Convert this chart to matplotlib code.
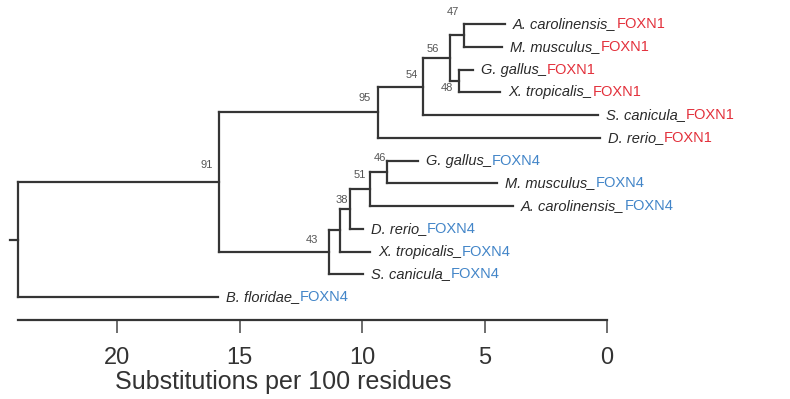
import matplotlib.pyplot as plt

plt.rcParams['font.family'] = ['Liberation Sans', 'DejaVu Sans']

# tips, top to bottom
species = ['A. carolinensis', 'M. musculus', 'G. gallus', 'X. tropicalis',
           'S. canicula', 'D. rerio', 'G. gallus', 'M. musculus',
           'A. carolinensis', 'D. rerio', 'X. tropicalis', 'S. canicula',
           'B. floridae']
genes = ['FOXN1', 'FOXN1', 'FOXN1', 'FOXN1', 'FOXN1', 'FOXN1',
         'FOXN4', 'FOXN4', 'FOXN4', 'FOXN4', 'FOXN4', 'FOXN4', 'FOXN4']
tip_dist = [4.16, 4.29, 5.47, 4.35, 0.37, 0.29,
            7.71, 4.49, 3.84, 9.96, 9.67, 9.96, 15.88]

# internal nodes (post-order), children refer to tips 't<i>' or other nodes
node_ids = ['n47', 'n48', 'n56', 'n54', 'n95', 'n46', 'n51', 'n38',
            'n39', 'n43', 'n91', 'root']
node_children = [['t0', 't1'], ['t2', 't3'], ['n47', 'n48'], ['n56', 't4'],
                 ['n54', 't5'], ['t6', 't7'], ['n46', 't8'], ['n51', 't9'],
                 ['n38', 't10'], ['n39', 't11'], ['n95', 'n43'], ['n91', 't12']]
node_dist = [5.84, 6.04, 6.41, 7.51, 9.35, 8.98, 9.67, 10.5,
             10.9, 11.35, 15.84, 24.04]
node_support = ['47', '48', '56', '54', '95', '46', '51', '38',
                '', '43', '91', '']

axis_ticks = [20, 15, 10, 5, 0]

gene_colors = {'FOXN1': '#e3303b', 'FOXN4': '#4285c8'}
# where each bootstrap number sits relative to its node, in pixels
support_offset = {'n47': (-11, 23), 'n48': (-12, -7), 'n56': (-17, 9),
                  'n54': (-11, 12), 'n95': (-13, 14), 'n46': (-7, 14),
                  'n51': (-10, 14), 'n38': (-8, 9), 'n43': (-17, 12),
                  'n91': (-12, 17)}

fig = plt.figure(figsize=(7.9, 3.99), dpi=100)
ax = fig.add_axes([0, 79 / 399, 1, 320 / 399])
ax.set_xlim(24.776, -7.469)
ax.set_ylim(13.01, -1.055)

branch = dict(color='#353535', lw=1.6, clip_on=False)

pos = {}
for i in range(len(species)):
    pos['t%d' % i] = (tip_dist[i], i)

for nid, kids, d in zip(node_ids, node_children, node_dist):
    ys = [pos[k][1] for k in kids]
    pos[nid] = (d, sum(ys) / len(ys))
    ax.plot([d, d], [min(ys), max(ys)], **branch)
    for k in kids:
        ax.plot([d, pos[k][0]], [pos[k][1], pos[k][1]], **branch)

# little stub at the root
rx, ry = pos['root']
ax.plot([rx, rx + 0.33], [ry, ry], **branch)

for nid, sup in zip(node_ids, node_support):
    if not sup:
        continue
    ax.annotate(sup, xy=pos[nid], xytext=support_offset[nid],
                textcoords='offset pixels', ha='center', va='center',
                fontsize=8, color='#555555')

for i, (sp, g) in enumerate(zip(species, genes)):
    t = ax.annotate(sp + '_', xy=(tip_dist[i], i), xytext=(8, 0),
                    textcoords='offset pixels', ha='left', va='center',
                    fontsize=10.5, style='italic', color='#2a2a2a')
    ax.annotate(g, xy=(1, 0), xycoords=t, ha='left', va='bottom',
                fontsize=10.5, color=gene_colors[g])

for s in ['top', 'left', 'right']:
    ax.spines[s].set_visible(False)
ax.spines['bottom'].set_bounds(node_dist[-1], 0)
ax.spines['bottom'].set_linewidth(1.6)
ax.spines['bottom'].set_color('#353535')
ax.set_yticks([])
ax.set_xticks(axis_ticks)
ax.set_xticklabels([str(v) for v in axis_ticks])
ax.tick_params(axis='x', direction='out', length=9.5, width=1.2,
               color='#555555', pad=10, labelsize=17, labelcolor='#333333')
ax.set_xlabel('Substitutions per 100 residues', fontsize=18,
              color='#333333', ha='left', va='center')
ax.xaxis.set_label_coords(115 / 790, -62 / 320)

fig.savefig('out.png', dpi=100)
